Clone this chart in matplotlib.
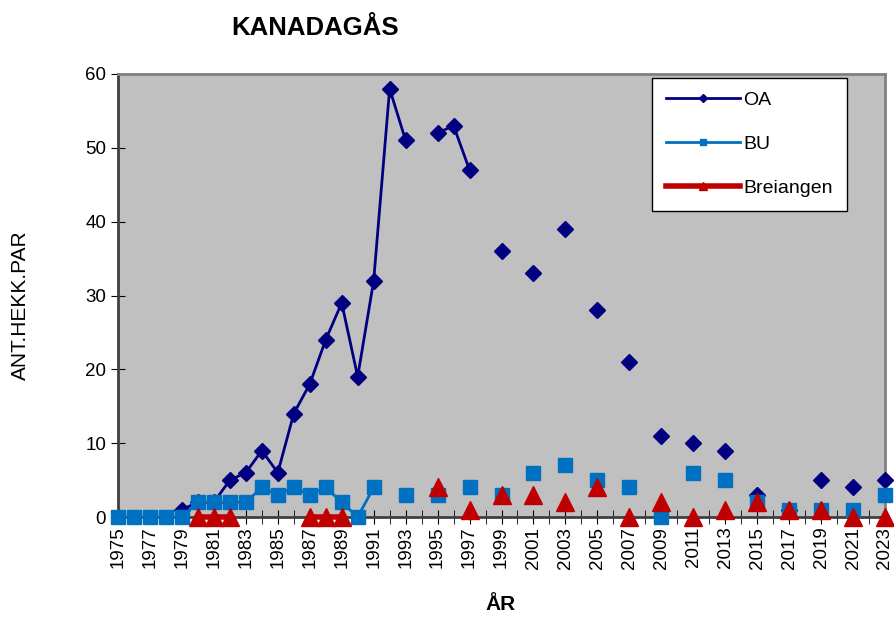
import numpy as np
import matplotlib.pyplot as plt
from matplotlib.ticker import MultipleLocator

plt.rcParams['font.family'] = ['Liberation Sans', 'DejaVu Sans']

nan = np.nan
years = np.arange(1975, 2024)

# OA, BU og Breiangen (nan = ingen telling)
oa = [nan, nan, nan, nan, 1, 2, 2, 5, 6, 9, 6, 14, 18, 24, 29, 19, 32, 58, 51, nan,
      52, 53, 47, nan, 36, nan, 33, nan, 39, nan, 28, nan, 21, nan, 11, nan, 10, nan,
      9, nan, 3, nan, 1, nan, 5, nan, 4, nan, 5]
bu = [0, 0, 0, 0, 0, 2, 2, 2, 2, 4, 3, 4, 3, 4, 2, 0, 4, nan, 3, nan,
      3, nan, 4, nan, 3, nan, 6, nan, 7, nan, 5, nan, 4, nan, 0, nan, 6, nan,
      5, nan, 2, nan, 1, nan, 1, nan, 1, nan, 3]
breiangen = [nan, nan, nan, nan, nan, 0, 0, 0, nan, nan, nan, nan, 0, 0, 0, nan, nan, nan, nan, nan,
             4, nan, 1, nan, 3, nan, 3, nan, 2, nan, 4, nan, 0, nan, 2, nan, 0, nan,
             1, nan, 2, nan, 1, nan, 1, nan, 0, nan, 0]

fig = plt.figure(figsize=(8.94, 6.18), dpi=100)
ax = fig.add_axes([118 / 894, 1 - 517 / 618, (885 - 118) / 894, (517 - 74) / 618])
ax.set_facecolor('#c0c0c0')

ax.plot(years, oa, color='#000080', marker='D', markersize=8.5, linewidth=2, label='OA', clip_on=False, zorder=3)
ax.plot(years, bu, color='#0070c0', marker='s', markersize=10, linewidth=2, label='BU', clip_on=False, zorder=4)
ax.plot(years, breiangen, color='#c00000', marker='^', markersize=13, linewidth=4, label='Breiangen',
        clip_on=False, zorder=5)

ax.set_xlim(1975, 2023)
ax.set_ylim(0, 60)
ax.xaxis.set_minor_locator(MultipleLocator(1))
ax.set_xticks(np.arange(1975, 2024, 2))
ax.yaxis.set_major_locator(MultipleLocator(10))
ax.tick_params(axis='x', which='both', direction='inout', length=10, labelsize=13.5, rotation=90, color='black',
               pad=2)
ax.tick_params(axis='y', direction='inout', length=10, labelsize=13.5, color='black')

for side in ['top', 'right']:
    ax.spines[side].set_color('#808080')
    ax.spines[side].set_linewidth(2)
for side in ['left', 'bottom']:
    ax.spines[side].set_color('#404040')
    ax.spines[side].set_linewidth(2)

leg = ax.legend(loc='upper left', bbox_to_anchor=((652 - 118) / 767, 1 - 4 / 443), fontsize=14, frameon=True,
                fancybox=False, edgecolor='black', framealpha=1, labelspacing=1.35, borderpad=0.7,
                handlelength=3.8, handletextpad=0.2, markerscale=0.45, borderaxespad=0)
leg.get_frame().set_linewidth(1)

fig.text(315 / 894, 1 - 28 / 618, 'KANADAGÅS', fontsize=18.5, fontweight='bold', ha='center', va='center')
fig.text(20 / 894, 1 - 305 / 618, 'ANT.HEKK.PAR', fontsize=15, rotation=90, ha='center', va='center')
fig.text(500 / 894, 1 - 604 / 618, 'ÅR', fontsize=15, fontweight='bold', ha='center', va='center')

fig.savefig('out.png', dpi=100)
